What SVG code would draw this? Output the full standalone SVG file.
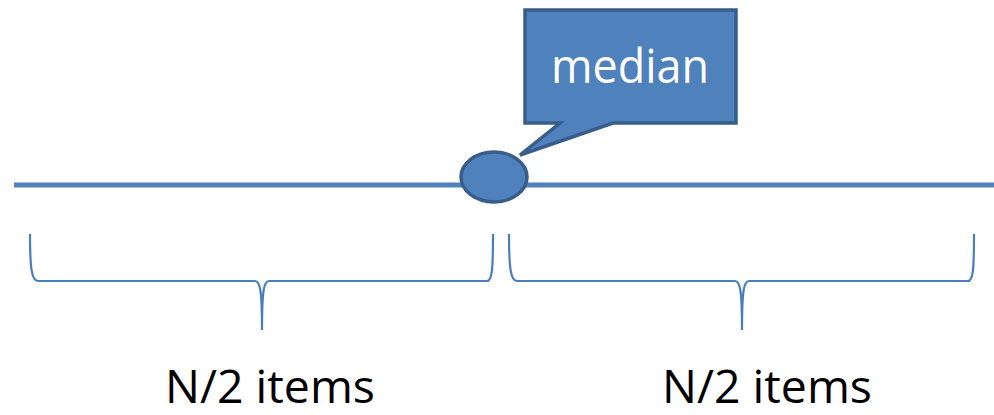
<svg xmlns="http://www.w3.org/2000/svg" width="994" height="415" viewBox="0 0 994 415">
<style>
.shape{fill:#4f81bd;stroke:#385d8a;stroke-width:3.5;stroke-linejoin:miter}
.brace{fill:none;stroke:#4a7ebb;stroke-width:2.2}
.lbl{font-family:"Open Sans","Noto Sans",sans-serif;font-size:46px;fill:#000}
</style>
<rect width="994" height="415" fill="#fff"/>
<g id="connectors">
<line x1="14" y1="185" x2="994" y2="185" stroke="#4f81bd" stroke-width="5"/>
<path class="brace" d="M30,234 C30,270 32,281 38,281 L255,281 C260,281 262,290 262,330 C262,290 264,281 269,281 L487,281 C492,281 493,270 493,234"/>
<path class="brace" d="M509,234 C509,270 511,281 517,281 L735,281 C740,281 742,290 742,330 C742,290 744,281 749,281 L968,281 C973,281 974,270 974,234"/>
</g>
<g id="median-point">
<ellipse class="shape" cx="494" cy="177" rx="33" ry="25"/>
</g>
<g id="median-callout">
<path class="shape" d="M525,10 L736,10 L736,123 L613,123 L520,155 L560,123 L525,123 Z"/>
<text x="630" y="83" text-anchor="middle" class="lbl" style="fill:#fff;font-size:48px" textLength="158" lengthAdjust="spacingAndGlyphs">median</text>
</g>
<g id="left-label">
<text x="270" y="403" text-anchor="middle" class="lbl" textLength="210" lengthAdjust="spacingAndGlyphs">N/2 items</text>
</g>
<g id="right-label">
<text x="767" y="403" text-anchor="middle" class="lbl" textLength="210" lengthAdjust="spacingAndGlyphs">N/2 items</text>
</g>
</svg>
